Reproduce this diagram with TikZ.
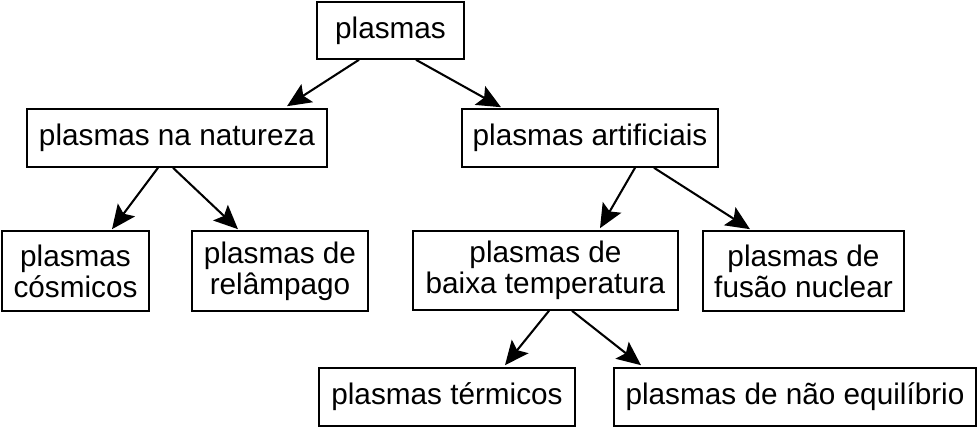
\documentclass[tikz,border=0pt]{standalone}
\usepackage{fontspec}
\setmainfont{Liberation Sans}
\usetikzlibrary{arrows.meta,calc}

\tikzset{every picture/.style={line width=0.75pt}}
\tikzset{
  box/.style={draw,line width=1.2pt,inner sep=0pt,align=center,
    font=\fontsize{22.3pt}{23.3pt}\selectfont},
  arr/.style={line width=1.55pt,-{Stealth[length=18pt,width=16pt,inset=3.5pt]}}
}

\begin{document}
\begin{tikzpicture}[x=0.75pt,y=0.75pt,yscale=-1,xscale=1]
\useasboundingbox (0,0) rectangle (979,427);

% Text Node
\node [box,minimum width=110.25pt,minimum height=42.75pt] (root) at (390.5,30.5) {plasmas};
% Text Node
\node [box,minimum width=225pt,minimum height=43.5pt] (nat) at (177,138) {plasmas na natureza};
% Text Node
\node [box,minimum width=192pt,minimum height=43.5pt] (art) at (590,138) {plasmas artificiais};
% Text Node
\node [box,minimum width=110.25pt,minimum height=60pt] (cos) at (75.5,271) {plasmas\\cósmicos};
% Text Node
\node [box,minimum width=132pt,minimum height=60pt] (rel) at (280,271) {plasmas de\\relâmpago};
% Text Node
\node [box,minimum width=198.75pt,minimum height=59.25pt] (baixa) at (545.5,270.5) {plasmas de\\baixa temperatura};
% Text Node
\node [box,minimum width=150.75pt,minimum height=60pt] (fus) at (803.5,271) {plasmas de\\fusão nuclear};
% Text Node
\node [box,minimum width=192pt,minimum height=43.5pt] (term) at (447,397) {plasmas térmicos};
% Text Node
\node [box,minimum width=271.5pt,minimum height=43.5pt] (neq) at (795,397) {plasmas de não equilíbrio};

%Straight Lines
\draw [arr] ($(root.south)+(-31.5,0)$) -- ($(nat.north)+(110,-2)$);
\draw [arr] ($(root.south)+(25.5,0)$) -- ($(art.north)+(-89,-1)$);
%Straight Lines
\draw [arr] ($(nat.south)+(-19,0)$) -- ($(cos.north)+(36.5,-1)$);
\draw [arr] ($(nat.south)+(-4,0)$) -- ($(rel.north)+(-42,-1)$);
%Straight Lines
\draw [arr] ($(art.south)+(45,0)$) -- ($(baixa.north)+(54.5,-2)$);
\draw [arr] ($(art.south)+(64,0)$) -- ($(fus.north)+(-53.5,-1)$);
%Straight Lines
\draw [arr] ($(baixa.south)+(3.5,0)$) -- ($(term.north)+(58,-2)$);
\draw [arr] ($(baixa.south)+(26.5,0)$) -- ($(neq.north)+(-154,-2)$);

\end{tikzpicture}
\end{document}
